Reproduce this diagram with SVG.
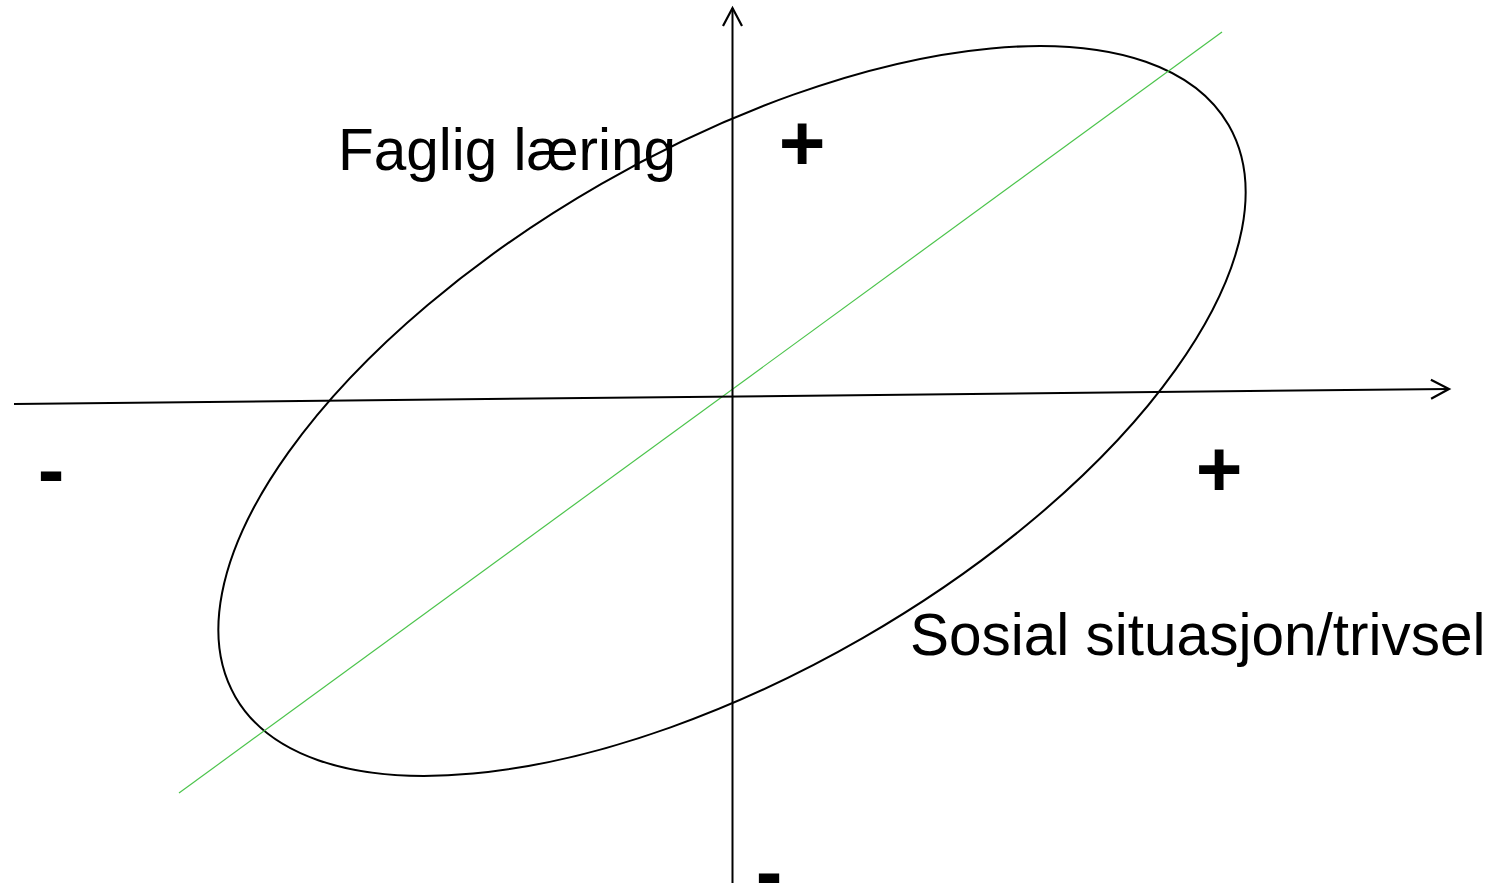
<svg xmlns="http://www.w3.org/2000/svg" width="1498" height="883" viewBox="0 0 1498 883">
<style>
.ax{stroke:#000;stroke-width:2;fill:none}
.lbl{font-family:"Liberation Sans",Arial,sans-serif;font-size:58.5px;fill:#000}
.sgn{font-family:"Liberation Sans",Arial,sans-serif;font-size:80px;font-weight:bold;fill:#000}
</style>
<defs>
<marker id="arr" markerUnits="userSpaceOnUse" markerWidth="40" markerHeight="40" refX="0" refY="0" viewBox="-20 -20 40 40" orient="auto" overflow="visible">
<path d="M-18,-9.5 L0,0 L-18,9.5" fill="none" stroke="#000" stroke-width="2.2"/>
</marker>
</defs>
<rect width="1498" height="883" fill="#fff"/>
<g id="ellipse">
<ellipse cx="732" cy="411" rx="573" ry="262" transform="rotate(-29.9 732 411)" fill="none" stroke="#000" stroke-width="2"/>
</g>
<g id="connectors">
<line x1="179" y1="793" x2="1222" y2="32" stroke="#4cc44c" stroke-width="1.2"/>
<line class="ax" x1="732.5" y1="883" x2="732.5" y2="8" marker-end="url(#arr)"/>
<line class="ax" x1="14" y1="404" x2="1449" y2="389" marker-end="url(#arr)"/>
</g>
<g id="label-faglig"><text class="lbl" x="338" y="170">Faglig læring</text></g>
<g id="label-sosial"><text class="lbl" x="910" y="655">Sosial situasjon/trivsel</text></g>
<g id="sign-top"><text class="sgn" x="802" y="170" text-anchor="middle">+</text></g>
<g id="sign-right"><text class="sgn" x="1219" y="496" text-anchor="middle">+</text></g>
<g id="sign-left"><text class="sgn" x="51" y="497" text-anchor="middle">-</text></g>
<g id="sign-bottom"><text class="sgn" x="769" y="899" text-anchor="middle">-</text></g>
</svg>
